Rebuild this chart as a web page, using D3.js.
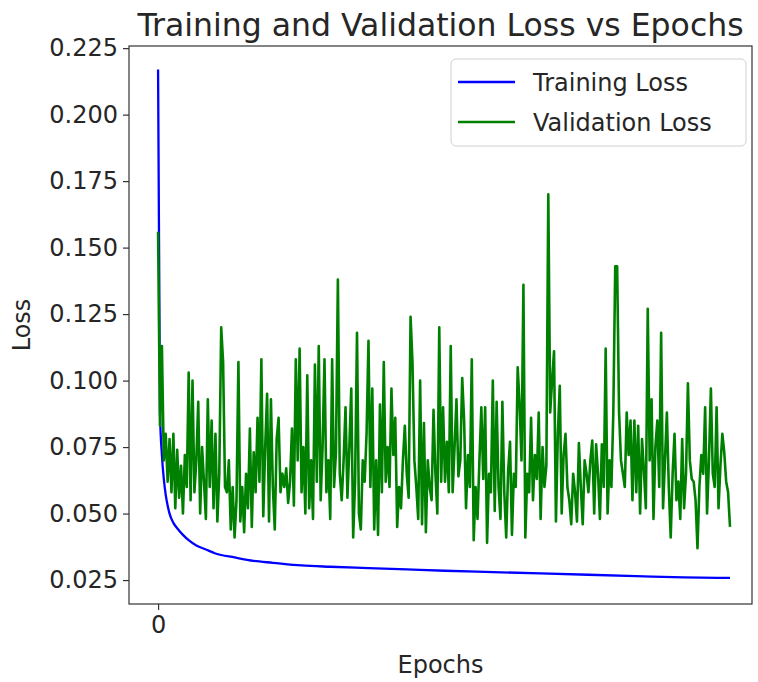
<!DOCTYPE html>
<html>
<head>
<meta charset="utf-8">
<script src="https://cdn.jsdelivr.net/npm/d3@7"></script>
<style>
  body { margin: 0; background: #fff; }
  text { font-family: "DejaVu Sans", sans-serif; fill: #262626; }
</style>
</head>
<body>
<div id="chart"></div>
<script>
// training loss, read at a handful of epochs (curve is smooth)
var trainEpochs = [0, 1, 2, 3, 4, 5, 6, 8, 10, 13, 16, 20, 25, 30, 40, 50, 60, 75, 90, 110, 130, 150, 175, 200, 225, 250, 275, 299];
var trainLoss = [0.217, 0.088, 0.072, 0.063, 0.057, 0.053, 0.050, 0.0465, 0.0445, 0.042, 0.040, 0.038, 0.0365, 0.035, 0.0335, 0.0322, 0.0315, 0.0305, 0.030, 0.0295, 0.029, 0.0285, 0.028, 0.0275, 0.027, 0.0265, 0.026, 0.0258];

// validation loss, one value per epoch
var valLoss = [
  0.156, 0.083, 0.113, 0.070, 0.080, 0.062, 0.078, 0.058, 0.080, 0.052,
  0.074, 0.056, 0.068, 0.050, 0.072, 0.060, 0.103, 0.055, 0.100, 0.058,
  0.070, 0.092, 0.050, 0.075, 0.062, 0.048, 0.093, 0.060, 0.085, 0.052,
  0.080, 0.047, 0.065, 0.120, 0.107, 0.060, 0.058, 0.070, 0.044, 0.060,
  0.041, 0.055, 0.107, 0.047, 0.060, 0.043, 0.065, 0.052, 0.082, 0.045,
  0.073, 0.058, 0.086, 0.062, 0.108, 0.049, 0.075, 0.095, 0.047, 0.093,
  0.060, 0.044, 0.078, 0.086, 0.058, 0.065, 0.060, 0.067, 0.054, 0.062,
  0.082, 0.053, 0.108, 0.070, 0.112, 0.058, 0.075, 0.050, 0.102, 0.052,
  0.070, 0.048, 0.106, 0.062, 0.113, 0.055, 0.075, 0.108, 0.058, 0.070,
  0.048, 0.108, 0.060, 0.073, 0.138, 0.065, 0.055, 0.070, 0.090, 0.056,
  0.075, 0.097, 0.041, 0.062, 0.118, 0.050, 0.044, 0.070, 0.062, 0.080,
  0.115, 0.060, 0.097, 0.044, 0.070, 0.042, 0.091, 0.058, 0.107, 0.062,
  0.075, 0.060, 0.097, 0.072, 0.086, 0.045, 0.060, 0.052, 0.070, 0.083,
  0.065, 0.056, 0.124, 0.107, 0.070, 0.060, 0.048, 0.100, 0.046, 0.084,
  0.043, 0.070, 0.060, 0.055, 0.089, 0.065, 0.050, 0.120, 0.062, 0.090,
  0.062, 0.077, 0.058, 0.113, 0.058, 0.075, 0.093, 0.064, 0.070, 0.101,
  0.085, 0.052, 0.072, 0.060, 0.108, 0.040, 0.060, 0.048, 0.070, 0.090,
  0.063, 0.090, 0.039, 0.065, 0.058, 0.100, 0.051, 0.092, 0.060, 0.048,
  0.092, 0.058, 0.041, 0.066, 0.077, 0.042, 0.065, 0.060, 0.105, 0.091,
  0.070, 0.136, 0.041, 0.065, 0.058, 0.086, 0.055, 0.072, 0.063, 0.088,
  0.048, 0.075, 0.060, 0.068, 0.170, 0.088, 0.100, 0.111, 0.047, 0.080,
  0.098, 0.050, 0.072, 0.080, 0.060, 0.055, 0.046, 0.065, 0.058, 0.047,
  0.0765, 0.060, 0.046, 0.070, 0.065, 0.058, 0.070, 0.0775, 0.050, 0.076,
  0.065, 0.048, 0.076, 0.060, 0.112, 0.050, 0.070, 0.060, 0.088, 0.143,
  0.143, 0.088, 0.070, 0.065, 0.060, 0.088, 0.072, 0.085, 0.055, 0.085,
  0.058, 0.083, 0.050, 0.078, 0.066, 0.052, 0.127, 0.070, 0.093, 0.048,
  0.075, 0.085, 0.060, 0.118, 0.052, 0.070, 0.088, 0.060, 0.041, 0.065,
  0.080, 0.055, 0.062, 0.048, 0.078, 0.052, 0.065, 0.099, 0.070, 0.063,
  0.062, 0.055, 0.037, 0.060, 0.072, 0.065, 0.090, 0.050, 0.070, 0.097,
  0.065, 0.060, 0.090, 0.052, 0.068, 0.080, 0.073, 0.062, 0.058, 0.045
];

var yTicks = [0.025, 0.050, 0.075, 0.100, 0.125, 0.150, 0.175, 0.200, 0.225];
var xTicks = [0];

function init() {
    var w = 758, h = 682;
    var left = 129, right = 752, top = 46, bottom = 604;

    var svg = d3.select("#chart").append("svg")
        .attr("width", w)
        .attr("height", h);

    var xScale = d3.scaleLinear()
        .domain([-15.2, 310.5])
        .range([left, right]);
    var yScale = d3.scaleLinear()
        .domain([0.016, 0.2258])
        .range([bottom, top]);

    //axes
    var yAxis = svg.append("g")
        .attr("transform", `translate(${left},0)`)
        .call(d3.axisLeft(yScale).tickValues(yTicks).tickFormat(d3.format(".3f")).tickSize(6).tickPadding(5));
    var xAxis = svg.append("g")
        .attr("transform", `translate(0,${bottom})`)
        .call(d3.axisBottom(xScale).tickValues(xTicks).tickSize(6).tickPadding(6));
    [xAxis, yAxis].forEach(a => {
        a.select(".domain").remove();
        a.selectAll("line").attr("stroke", "#333").attr("stroke-width", 1.2);
        a.selectAll("text").style("font-size", "24px").attr("fill", "#262626");
    });

    //clip for the lines
    svg.append("clipPath").attr("id", "clip")
        .append("rect").attr("x", left).attr("y", top)
        .attr("width", right - left).attr("height", bottom - top);

    var line = d3.line()
        .x(d => xScale(d[0]))
        .y(d => yScale(d[1]));

    var trainData = trainEpochs.map((e, i) => [e, trainLoss[i]]);
    var valData = valLoss.map((v, i) => [i, v]);

    svg.append("path")
        .datum(trainData)
        .attr("clip-path", "url(#clip)")
        .attr("fill", "none")
        .attr("stroke", "#0000ff")
        .attr("stroke-width", 2.3)
        .attr("d", line.curve(d3.curveMonotoneX));

    svg.append("path")
        .datum(valData)
        .attr("clip-path", "url(#clip)")
        .attr("fill", "none")
        .attr("stroke", "#008000")
        .attr("stroke-width", 2.6)
        .attr("stroke-linejoin", "round")
        .attr("d", line.curve(d3.curveLinear));

    //frame
    svg.append("rect")
        .attr("x", left).attr("y", top)
        .attr("width", right - left).attr("height", bottom - top)
        .attr("fill", "none")
        .attr("stroke", "#333")
        .attr("stroke-width", 1.2);

    //title and axis labels
    svg.append("text")
        .attr("x", (left + right) / 2)
        .attr("y", 36)
        .style("text-anchor", "middle")
        .style("font-size", "31.5px")
        .text("Training and Validation Loss vs Epochs");

    svg.append("text")
        .attr("transform", "rotate(-90)")
        .attr("x", -(top + bottom) / 2)
        .attr("y", 30)
        .style("text-anchor", "middle")
        .style("font-size", "24px")
        .text("Loss");

    svg.append("text")
        .attr("x", (left + right) / 2)
        .attr("y", 673)
        .style("text-anchor", "middle")
        .style("font-size", "24px")
        .text("Epochs");

    //legend
    var legend = svg.append("g");
    legend.append("rect")
        .attr("x", 451).attr("y", 59)
        .attr("width", 295).attr("height", 87)
        .attr("rx", 5)
        .attr("fill", "#fff")
        .attr("fill-opacity", 0.8)
        .attr("stroke", "#d0d0d0");
    var items = [["Training Loss", "#0000ff"], ["Validation Loss", "#008000"]];
    items.forEach((it, i) => {
        var y = 82 + i * 40;
        legend.append("line")
            .attr("x1", 458).attr("x2", 515)
            .attr("y1", y).attr("y2", y)
            .attr("stroke", it[1]).attr("stroke-width", 2.3);
        legend.append("text")
            .attr("x", 533).attr("y", y + 9)
            .style("font-size", "24px")
            .text(it[0]);
    });
}

window.onload = init;
</script>
</body>
</html>
